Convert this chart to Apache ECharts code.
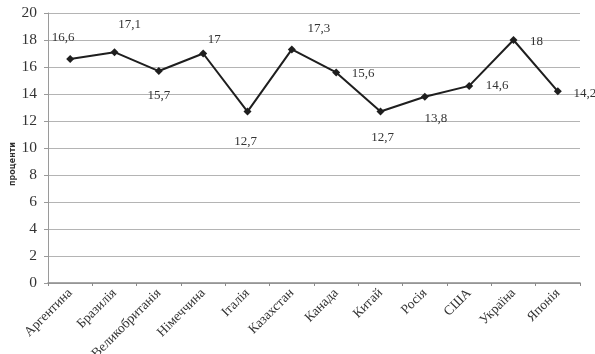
<!DOCTYPE html>
<html>
<head>
<meta charset="utf-8">
<script src="https://cdn.jsdelivr.net/npm/echarts@6/dist/echarts.min.js"></script>
<style>
  html, body { margin: 0; padding: 0; background: #ffffff; }
  #chart { width: 595px; height: 354px; }
</style>
</head>
<body>
<div id="chart"></div>
<script>
// Countries along the x axis
const countries = ['Аргентина', 'Бразилія', 'Великобританія', 'Німеччина', 'Італія', 'Казахстан',
                   'Канада', 'Китай', 'Росія', 'США', 'Україна', 'Японія'];
// Share, in percent
const shares = [16.6, 17.1, 15.7, 17, 12.7, 17.3, 15.6, 12.7, 13.8, 14.6, 18, 14.2];
// Y axis ticks
const yTicks = [0, 2, 4, 6, 8, 10, 12, 14, 16, 18, 20];

// Where each value label sits relative to its marker (dx, dy in px)
const labelOffsets = [[-7, -21], [15, -28], [0, 25], [11, -14], [-2, 30], [27, -21],
                      [27, 1], [2, 26], [11, 22], [28, 0], [23, 2], [27, 2]];

const serif = '"Liberation Serif", "DejaVu Serif", serif';
const fmt = v => String(v).replace('.', ',');

const chart = echarts.init(document.getElementById('chart'), null, { renderer: 'canvas' });
chart.setOption({
  animation: false,
  backgroundColor: '#ffffff',
  grid: { left: 48, right: 15, top: 13, bottom: 71, containLabel: false, outerBoundsMode: 'none' },
  xAxis: {
    type: 'category',
    data: countries,
    boundaryGap: true,
    axisLine: { lineStyle: { color: '#8a8a8a', width: 1.5 } },
    axisTick: { show: true, length: 3, lineStyle: { color: '#8a8a8a' } },
    axisLabel: {
      interval: 0, rotate: 45, margin: 8, hideOverlap: false,
      fontFamily: serif, fontSize: 13.5, color: '#333333'
    },
    splitLine: { show: false }
  },
  yAxis: {
    type: 'value',
    min: yTicks[0],
    max: yTicks[yTicks.length - 1],
    interval: 2,
    name: 'проценти',
    nameLocation: 'middle',
    nameRotate: 90,
    nameGap: 31,
    nameMoveOverlap: false,
    nameTextStyle: {
      fontFamily: '"DejaVu Sans", sans-serif', fontSize: 8, fontWeight: 'bold', color: '#333',
      padding: [0, 32, 0, 0]
    },
    axisLine: { show: true, lineStyle: { color: '#9a9a9a', width: 1 } },
    axisTick: { show: true, length: 4, lineStyle: { color: '#9a9a9a' } },
    axisLabel: { fontFamily: serif, fontSize: 15.5, color: '#333333', margin: 11 },
    splitLine: { show: true, lineStyle: { color: '#b4b4b4', width: 1 } }
  },
  series: [{
    type: 'line',
    data: shares.map((v, i) => ({
      value: v,
      label: { offset: labelOffsets[i] }
    })),
    symbol: 'diamond',
    symbolSize: 8,
    lineStyle: { color: '#1e1e1e', width: 2 },
    itemStyle: { color: '#1e1e1e' },
    label: {
      show: true,
      position: 'inside',
      align: 'center',
      verticalAlign: 'middle',
      fontFamily: serif,
      fontSize: 13,
      color: '#333333',
      formatter: p => fmt(p.value)
    }
  }]
});
</script>
</body>
</html>
